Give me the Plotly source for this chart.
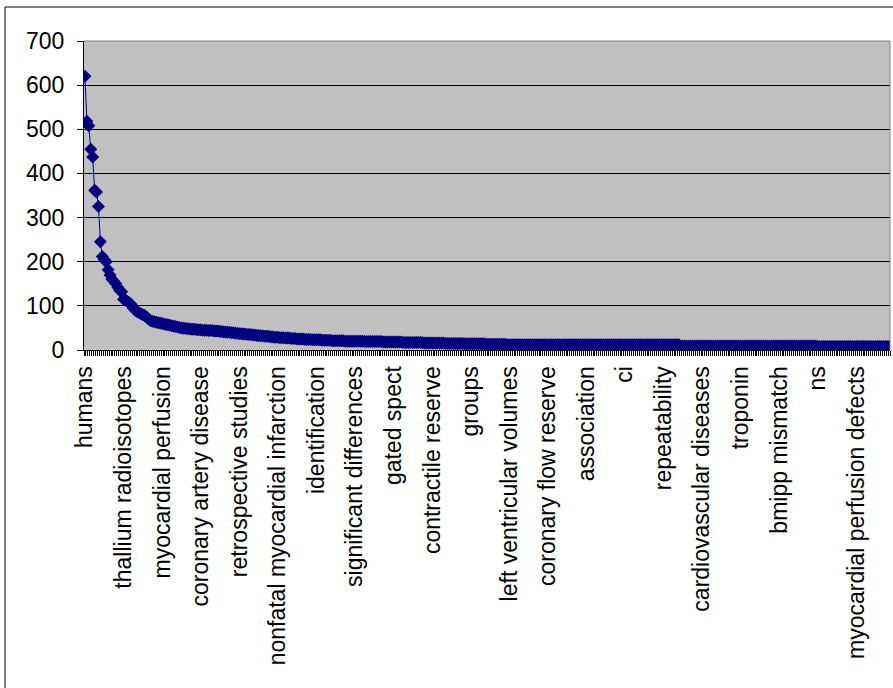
import plotly.graph_objects as go

# Category labels that are shown on the axis (every 20th category)
label_names = [
    "humans", "thallium radioisotopes", "myocardial perfusion", "coronary artery disease",
    "retrospective studies", "nonfatal myocardial infarction", "identification",
    "significant differences", "gated spect", "contractile reserve", "groups",
    "left ventricular volumes", "coronary flow reserve", "association", "ci",
    "repeatability", "cardiovascular diseases", "troponin", "bmipp mismatch", "ns",
    "myocardial perfusion defects",
]
label_step = 20

# Values (one per category)
values = [
    620, 518, 508, 455, 437, 362, 358, 325, 245, 212, 205, 200, 182, 170, 160, 156, 150, 142, 135, 132,
    115, 113, 110, 107, 103, 95, 90, 87, 85, 82, 80, 78, 74, 70, 67, 65, 64, 63, 62, 61,
    60, 59, 58, 57, 56, 55, 54, 53, 52, 51, 50, 49, 49, 48, 48, 47, 47, 47, 46, 46,
    46, 45, 45, 45, 44, 44, 44, 43, 43, 43, 42, 42, 41, 41, 40, 40, 39, 39, 38, 38,
    37, 37, 36, 36, 35, 35, 35, 34, 34, 33, 33, 32, 32, 31, 31, 31, 30, 30, 29, 29,
    29, 28, 28, 28, 27, 27, 27, 26, 26, 26, 25, 25, 25, 25, 24, 24, 24, 24, 23, 23,
    23, 23, 23, 22, 22, 22, 22, 22, 21, 21, 21, 21, 21, 21, 21, 20, 20, 20, 20, 20,
    20, 20, 20, 20, 20, 19, 19, 19, 19, 19, 19, 19, 19, 19, 19, 18, 18, 18, 18, 18,
    18, 18, 18, 18, 18, 17, 17, 17, 17, 17, 17, 17, 17, 17, 17, 17, 16, 16, 16, 16,
    16, 16, 16, 16, 16, 16, 16, 15, 15, 15, 15, 15, 15, 15, 15, 15, 15, 14, 14, 14,
    14, 14, 14, 14, 14, 14, 14, 14, 13, 13, 13, 13, 13, 13, 13, 13, 13, 13, 13, 12,
    12, 12, 12, 12, 12, 12, 12, 12, 12, 12, 12, 12, 12, 12, 12, 12, 12, 12, 12, 12,
    12, 12, 12, 12, 12, 12, 12, 12, 12, 12, 12, 12, 12, 12, 12, 12, 12, 12, 12, 12,
    12, 12, 12, 12, 12, 12, 12, 12, 12, 12, 12, 12, 12, 12, 12, 12, 12, 12, 12, 12,
    12, 12, 12, 12, 12, 12, 12, 12, 12, 12, 12, 12, 12, 12, 12, 12, 12, 12, 12, 12,
    12, 12, 12, 12, 12, 12, 12, 12, 12, 9, 9, 9, 9, 9, 9, 9, 9, 9, 9, 9,
    9, 9, 9, 9, 9, 9, 9, 9, 9, 9, 9, 9, 9, 9, 9, 9, 9, 9, 9, 9,
    9, 9, 9, 9, 9, 9, 9, 9, 9, 9, 9, 9, 9, 9, 9, 9, 9, 9, 9, 9,
    9, 9, 9, 9, 9, 9, 9, 9, 9, 9, 9, 9, 9, 9, 9, 9, 9, 9, 9, 9,
    8, 8, 8, 8, 8, 8, 8, 8, 8, 8, 8, 8, 8, 8, 8, 8, 8, 8, 8, 8,
    8, 8, 8, 8, 8, 8, 8, 8, 8, 8, 8, 8, 8, 8, 8, 8, 8, 8,
]

y_ticks = [0, 100, 200, 300, 400, 500, 600, 700]

n = len(values)
x_idx = list(range(n))
label_pos = [i * label_step for i in range(len(label_names))]

FONT = "Arial, Liberation Sans, sans-serif"
NAVY = "#000080"

fig = go.Figure()
fig.add_trace(go.Scatter(
    x=x_idx, y=values, mode="lines+markers",
    line=dict(color=NAVY, width=1),
    marker=dict(symbol="diamond", size=10, color=NAVY, line=dict(color=NAVY, width=0)),
    showlegend=False, hoverinfo="y",
))

L, R, T, B = 84, 3, 41, 338
W, H = 893, 688
pw = W - L - R
ph = H - T - B

fig.update_layout(
    width=W, height=H, autosize=False,
    margin=dict(l=L, r=R, t=T, b=B, pad=0, autoexpand=False),
    paper_bgcolor="white",
    plot_bgcolor="#C0C0C0",
    font=dict(family=FONT, color="black"),
    xaxis=dict(
        range=[-0.5, n - 0.5],
        tickmode="array", tickvals=label_pos, ticktext=label_names,
        tickangle=-90,
        ticks="",
        minor=dict(tickmode="array", tickvals=[i - 0.5 for i in range(n + 1)],
                   ticks="outside", ticklen=5, tickwidth=1, tickcolor="black",
                   showgrid=False),
        showgrid=False, zeroline=False,
        showline=True, linecolor="black", linewidth=1,
        tickfont=dict(family=FONT, size=23, color="black"),
        ticklabelstandoff=6,
        fixedrange=True,
    ),
    yaxis=dict(
        range=[0, 700], tickmode="array", tickvals=y_ticks,
        showgrid=True, gridcolor="black", gridwidth=1,
        ticks="outside", ticklen=6, tickcolor="black",
        showline=True, linecolor="black", linewidth=1,
        zeroline=False,
        tickfont=dict(family=FONT, size=23, color="black"),
        ticklabelstandoff=8,
        fixedrange=True,
    ),
    shapes=[
        # plot-area border (gray) on top and right
        dict(type="line", xref="paper", yref="paper", x0=0, x1=1, y0=1, y1=1,
             line=dict(color="#808080", width=1)),
        dict(type="line", xref="paper", yref="paper", x0=1, x1=1, y0=0, y1=1,
             line=dict(color="#808080", width=1)),
        # outer chart border
        dict(type="rect", xref="paper", yref="paper",
             x0=(5 - L) / pw, x1=(W + 10 - L) / pw,
             y0=(ph + T - (H + 10)) / ph, y1=(ph + T - 7) / ph,
             line=dict(color="black", width=1), fillcolor="rgba(0,0,0,0)", layer="below"),
    ],
)

fig.write_html(
    "out.html",
    config={"responsive": False, "displayModeBar": False},
    post_script="document.body.style.margin='0';document.body.style.overflow='hidden';",
)
